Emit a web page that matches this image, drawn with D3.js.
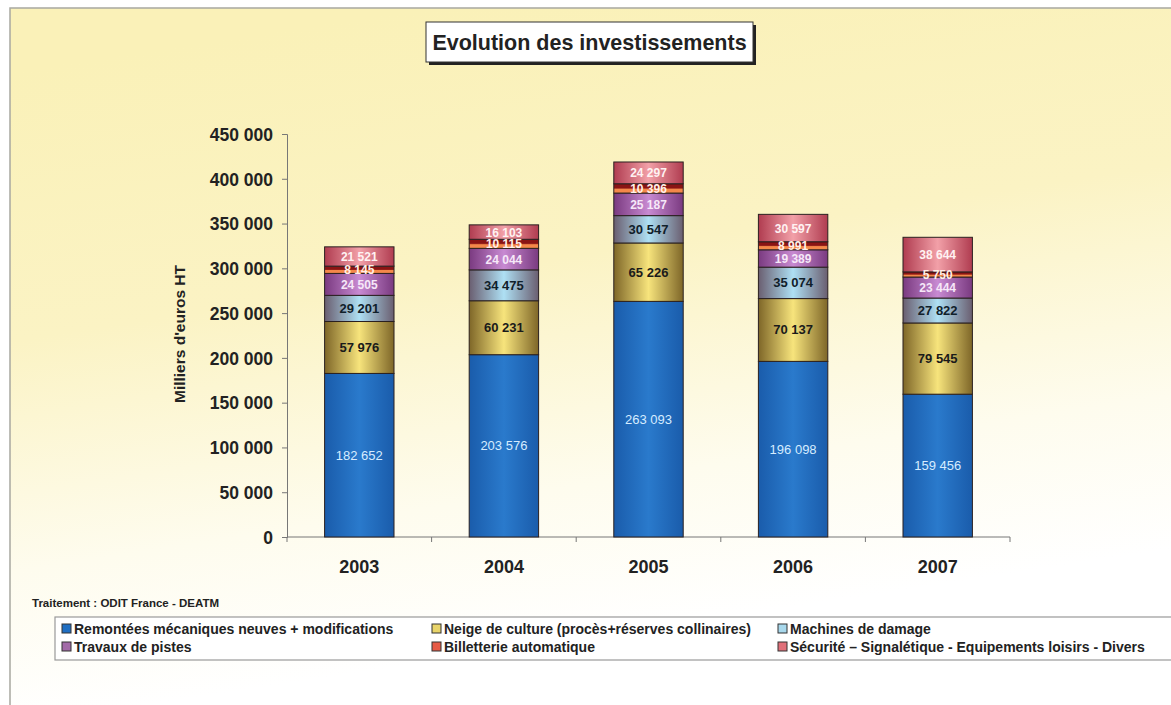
<!DOCTYPE html>
<html>
<head>
<meta charset="utf-8">
<script src="https://d3js.org/d3.v7.min.js"></script>
<style>
  body { margin: 0; background: #fff; }
  text { font-family: Arial, "Liberation Sans", sans-serif; }
</style>
</head>
<body>
<div id="chart"></div>
<script>
// canvas
var w = 1171, h = 705;
var margin = {top: 134, left: 287, right: 161, bottom: 168};
var width = w - margin.left - margin.right;
var height = h - margin.top - margin.bottom;

// data
var years = ["2003", "2004", "2005", "2006", "2007"];
var seriesNames = [
  "Remontées mécaniques neuves + modifications",
  "Neige de culture (procès+réserves collinaires)",
  "Machines de damage",
  "Travaux de pistes",
  "Billetterie automatique",
  "Sécurité – Signalétique - Equipements loisirs - Divers"
];
var remontees  = [182652, 203576, 263093, 196098, 159456];
var neige      = [57976, 60231, 65226, 70137, 79545];
var machines   = [29201, 34475, 30547, 35074, 27822];
var travaux    = [24505, 24044, 25187, 19389, 23444];
var billet     = [8145, 10115, 10396, 8991, 5750];
var securite   = [21521, 16103, 24297, 30597, 38644];
var yTicks = [0, 50000, 100000, 150000, 200000, 250000, 300000, 350000, 400000, 450000];

var allSeries = [remontees, neige, machines, travaux, billet, securite];
// gradient stops per series: edge, centre
var palette = [
  {edge: "#1a5cab", mid: "#2a7acc", label: "#d6ecff"},
  {edge: "#7e6628", mid: "#f7e47c", label: "#1a1a1a"},
  {edge: "#6a5e70", mid: "#aee0f4", label: "#10202a"},
  {edge: "#7a3a80", mid: "#c88ad2", label: "#f6e8f8"},
  {edge: "#8a1414", mid: "#f4884a", label: "#fff0e8"},
  {edge: "#b03c50", mid: "#f2a0a8", label: "#fff2f2"}
];
var legendFill = ["#1f6ec2", "#e8d46a", "#a8d8ec", "#a26aa8", "#e65a46", "#e0707a"];

var svg = d3.select("#chart").append("svg")
    .attr("width", w).attr("height", h);

var defs = svg.append("defs");

// background
var bg = defs.append("linearGradient").attr("id", "bg")
    .attr("x1", "0.35").attr("y1", "0").attr("x2", "0.6").attr("y2", "1");
bg.append("stop").attr("offset", "0%").attr("stop-color", "#faf1b8");
bg.append("stop").attr("offset", "35%").attr("stop-color", "#fbf3c4");
bg.append("stop").attr("offset", "65%").attr("stop-color", "#fefcee");
bg.append("stop").attr("offset", "85%").attr("stop-color", "#ffffff");

palette.forEach(function(p, i) {
  var g = defs.append("linearGradient").attr("id", "grad" + i);
  if (i === 4) {
    g.attr("x1", 0).attr("y1", 0).attr("x2", 0).attr("y2", 1);
    g.append("stop").attr("offset", "0%").attr("stop-color", p.edge);
    g.append("stop").attr("offset", "45%").attr("stop-color", p.edge);
    g.append("stop").attr("offset", "60%").attr("stop-color", p.mid);
    g.append("stop").attr("offset", "100%").attr("stop-color", p.mid);
  } else {
    g.attr("x1", 0).attr("y1", 0).attr("x2", 1).attr("y2", 0);
    g.append("stop").attr("offset", "0%").attr("stop-color", p.edge);
    g.append("stop").attr("offset", "50%").attr("stop-color", p.mid);
    g.append("stop").attr("offset", "100%").attr("stop-color", p.edge);
  }
});

svg.append("rect")
    .attr("x", 10).attr("y", 8).attr("width", w + 20).attr("height", h + 20)
    .style("fill", "url(#bg)").style("stroke", "#a8a8a0").style("stroke-width", 1.5);

// title box
svg.append("rect").attr("x", 429).attr("y", 25).attr("width", 327).attr("height", 40)
    .style("fill", "#222");
svg.append("rect").attr("x", 426).attr("y", 22).attr("width", 327).attr("height", 40)
    .style("fill", "#fff").style("stroke", "#333").style("stroke-width", 1);
svg.append("text").attr("x", 589.5).attr("y", 50)
    .attr("text-anchor", "middle")
    .style("font-size", "21.5px").style("font-weight", "bold").style("fill", "#222")
    .text("Evolution des investissements");

var g = svg.append("g").attr("transform", "translate(" + margin.left + "," + margin.top + ")");

var xScale = d3.scaleBand().domain(years).range([0, width])
    .paddingInner(0.52).paddingOuter(0.26);
var yScale = d3.scaleLinear().domain([0, 450000]).range([height, 0]);
var fmt = function(v) { return d3.format(",")(v).replace(/,/g, " "); };

// y axis
var yAxis = g.append("g").call(d3.axisLeft(yScale).tickValues(yTicks).tickSize(5).tickFormat(fmt));
yAxis.select(".domain").style("stroke", "#777");
yAxis.selectAll(".tick line").style("stroke", "#777");
yAxis.selectAll("text").attr("x", -14).attr("dy", "0.36em")
    .style("font-size", "17.5px").style("font-weight", "bold").style("fill", "#222");

// x axis (ticks between categories)
g.append("line").attr("x1", 0).attr("x2", width).attr("y1", height).attr("y2", height)
    .style("stroke", "#777");
var step = xScale.step();
d3.range(years.length + 1).forEach(function(i) {
  var xx = xScale(years[0]) - xScale.paddingOuter() * step + i * step;
  g.append("line").attr("x1", xx).attr("x2", xx).attr("y1", height).attr("y2", height + 5)
      .style("stroke", "#777");
});
g.selectAll(".year").data(years).enter().append("text")
    .attr("x", function(d) { return xScale(d) + xScale.bandwidth() / 2; })
    .attr("y", height + 36)
    .attr("text-anchor", "middle")
    .style("font-size", "18px").style("font-weight", "bold").style("fill", "#222")
    .text(function(d) { return d; });

// y axis title
svg.append("text")
    .attr("transform", "translate(185,334) rotate(-90)")
    .attr("text-anchor", "middle")
    .style("font-size", "15.5px").style("font-weight", "bold").style("fill", "#222")
    .text("Milliers d'euros HT");

// stacked bars
var rows = years.map(function(y, i) {
  var r = {year: y};
  allSeries.forEach(function(s, k) { r["s" + k] = s[i]; });
  return r;
});
var stack = d3.stack().keys(allSeries.map(function(s, k) { return "s" + k; }))(rows);

stack.forEach(function(layer, k) {
  var lg = g.append("g");
  lg.selectAll("rect").data(layer).enter().append("rect")
      .attr("x", function(d) { return xScale(d.data.year); })
      .attr("width", xScale.bandwidth())
      .attr("y", function(d) { return yScale(d[1]); })
      .attr("height", function(d) { return yScale(d[0]) - yScale(d[1]); })
      .style("fill", "url(#grad" + k + ")")
      .style("stroke", "#2a2020").style("stroke-width", 1);
});
stack.forEach(function(layer, k) {
  g.append("g").selectAll("text").data(layer).enter().append("text")
      .attr("x", function(d) { return xScale(d.data.year) + xScale.bandwidth() / 2; })
      .attr("y", function(d) { return (yScale(d[0]) + yScale(d[1])) / 2 + 4.5; })
      .attr("text-anchor", "middle")
      .style("font-size", k < 3 ? "13px" : "12px").style("font-weight", k === 0 ? "normal" : "bold")
      .style("fill", palette[k].label)
      .text(function(d) { return fmt(d[1] - d[0]); });
});

// source
svg.append("text").attr("x", 32).attr("y", 607)
    .style("font-size", "11.5px").style("font-weight", "bold").style("fill", "#222")
    .text("Traitement : ODIT France - DEATM");

// legend
svg.append("rect").attr("x", 55).attr("y", 617).attr("width", 1140).attr("height", 43)
    .style("fill", "#fff").style("stroke", "#999").style("stroke-width", 1.2);
var legCols = [62, 432, 778];
seriesNames.forEach(function(name, k) {
  var lx = legCols[k % 3], ly = 624 + Math.floor(k / 3) * 18;
  svg.append("rect").attr("x", lx).attr("y", ly).attr("width", 9).attr("height", 9)
      .style("fill", legendFill[k]).style("stroke", "#333").style("stroke-width", 1);
  svg.append("text").attr("x", lx + 12).attr("y", ly + 9.5)
      .style("font-size", "14px").style("font-weight", "bold").style("fill", "#222")
      .text(name);
});
</script>
</body>
</html>
